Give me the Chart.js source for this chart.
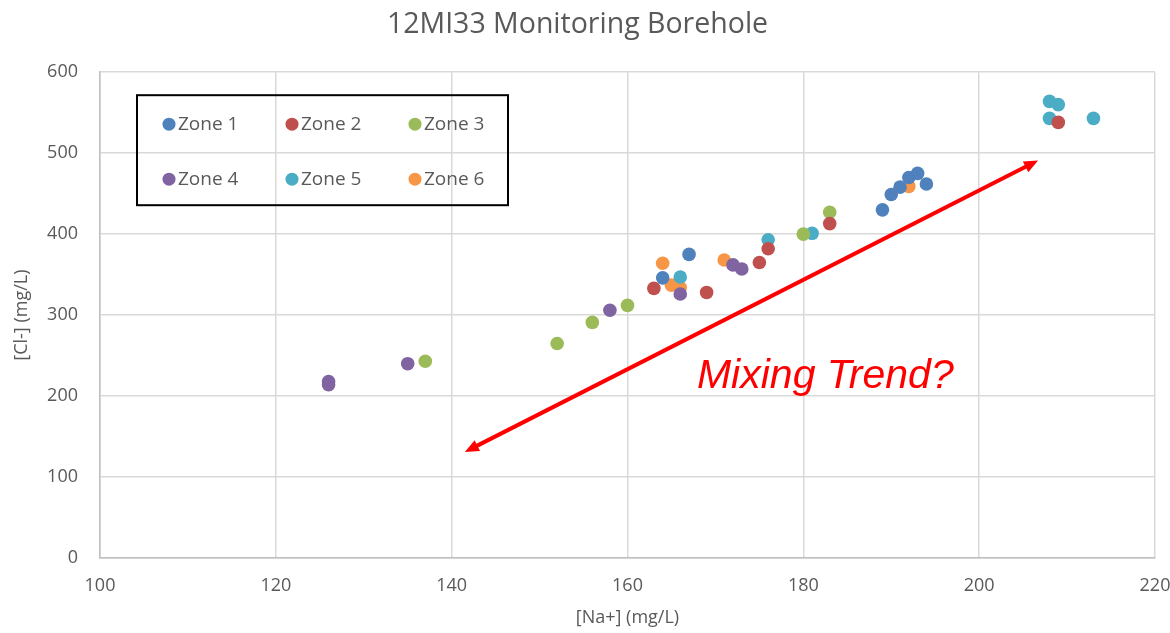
<!DOCTYPE html>
<html>
<head>
<meta charset="utf-8">
<script src="https://cdn.jsdelivr.net/npm/chart.js@4.4.0/dist/chart.umd.min.js"></script>
<style>
  html, body { margin: 0; padding: 0; background: #fff; }
  #wrap { width: 1170px; height: 633px; }
</style>
</head>
<body>
<div id="wrap"><canvas id="chart" width="1170" height="633"></canvas></div>
<script>
// [Na+] vs [Cl-] by zone, mg/L
const zoneNames = ["Zone 1", "Zone 2", "Zone 3", "Zone 4", "Zone 5", "Zone 6"];
const zoneColors = ["#4F81BD", "#C0504D", "#9BBB59", "#8064A2", "#4BACC6", "#F79646"];

const zone1Na = [164, 167, 189, 190, 191, 192, 193, 194];
const zone1Cl = [346, 375, 430, 449, 458, 470, 475, 462];

const zone2Na = [163, 169, 175, 176, 183, 209];
const zone2Cl = [333, 328, 365, 382, 413, 538];

const zone3Na = [137, 152, 156, 160, 180, 183];
const zone3Cl = [243, 265, 291, 312, 400, 427];

const zone4Na = [126, 126, 135, 158, 166, 172, 173];
const zone4Cl = [218, 214, 240, 306, 326, 362, 357];

const zone5Na = [166, 176, 181, 208, 209, 208, 213];
const zone5Cl = [347, 393, 401, 564, 560, 543, 543];

const zone6Na = [164, 165, 166, 171, 192];
const zone6Cl = [364, 337, 334, 368, 459];

// trend arrow ends and its label, in data units
const arrowNa = [141.5, 206.7];
const arrowCl = [131, 491];
const trendLabel = "Mixing Trend?";
const trendLabelAt = [167.9, 210];

const xTicks = [100, 120, 140, 160, 180, 200, 220];
const yTicks = [0, 100, 200, 300, 400, 500, 600];

const FONT = "'Open Sans', sans-serif";
const GREY = "#595959";

function toPoints(xs, ys) {
    return xs.map((x, i) => ({ x: x, y: ys[i] }));
}

const zoneData = [
    toPoints(zone1Na, zone1Cl),
    toPoints(zone2Na, zone2Cl),
    toPoints(zone3Na, zone3Cl),
    toPoints(zone4Na, zone4Cl),
    toPoints(zone5Na, zone5Cl),
    toPoints(zone6Na, zone6Cl)
];

const datasets = zoneNames.map((name, i) => ({
    label: name,
    data: zoneData[i],
    backgroundColor: zoneColors[i],
    borderColor: zoneColors[i],
    borderWidth: 0,
    pointRadius: 6.8,
    pointHoverRadius: 6.8
}));

// double headed arrow + italic label
const trendArrow = {
    id: "trendArrow",
    afterDatasetsDraw(chart) {
        const ctx = chart.ctx;
        const xs = chart.scales.x, ys = chart.scales.y;
        const x1 = xs.getPixelForValue(arrowNa[0]), y1 = ys.getPixelForValue(arrowCl[0]);
        const x2 = xs.getPixelForValue(arrowNa[1]), y2 = ys.getPixelForValue(arrowCl[1]);
        const ang = Math.atan2(y2 - y1, x2 - x1);
        const head = 14, half = 6;

        ctx.save();
        ctx.strokeStyle = "#FF0000";
        ctx.fillStyle = "#FF0000";
        ctx.lineWidth = 4;
        ctx.beginPath();
        ctx.moveTo(x1 + Math.cos(ang) * head * 0.8, y1 + Math.sin(ang) * head * 0.8);
        ctx.lineTo(x2 - Math.cos(ang) * head * 0.8, y2 - Math.sin(ang) * head * 0.8);
        ctx.stroke();

        function tip(tx, ty, a) {
            ctx.beginPath();
            ctx.moveTo(tx, ty);
            ctx.lineTo(tx - Math.cos(a) * head + Math.sin(a) * half, ty - Math.sin(a) * head - Math.cos(a) * half);
            ctx.lineTo(tx - Math.cos(a) * head - Math.sin(a) * half, ty - Math.sin(a) * head + Math.cos(a) * half);
            ctx.closePath();
            ctx.fill();
        }
        tip(x2, y2, ang);
        tip(x1, y1, ang + Math.PI);

        ctx.font = "italic 41px 'Liberation Sans', Arial, sans-serif";
        ctx.textAlign = "left";
        ctx.textBaseline = "alphabetic";
        ctx.fillText(trendLabel, xs.getPixelForValue(trendLabelAt[0]), ys.getPixelForValue(trendLabelAt[1]));
        ctx.restore();
    }
};

// boxed legend inside the plot, two rows of three
const boxLegend = {
    id: "boxLegend",
    afterDraw(chart, args, opts) {
        const ctx = chart.ctx;
        const area = chart.chartArea;
        const left = area.left + opts.offsetX, top = area.top + opts.offsetY;

        ctx.save();
        ctx.strokeStyle = "#000";
        ctx.lineWidth = 2;
        ctx.strokeRect(left, top, opts.width, opts.height);

        ctx.font = "19px " + FONT;
        ctx.textBaseline = "middle";
        ctx.textAlign = "left";
        chart.data.datasets.forEach((ds, i) => {
            const col = i % 3, row = Math.floor(i / 3);
            const cx = left + 32 + col * opts.colGap;
            const cy = top + 29 + row * opts.rowGap;
            ctx.fillStyle = ds.backgroundColor;
            ctx.beginPath();
            ctx.arc(cx, cy, 6.5, 0, Math.PI * 2);
            ctx.fill();
            ctx.fillStyle = GREY;
            ctx.fillText(ds.label, cx + 9, cy);
        });
        ctx.restore();
    }
};

new Chart(document.getElementById("chart"), {
    type: "scatter",
    data: { datasets: datasets },
    plugins: [trendArrow, boxLegend],
    options: {
        responsive: false,
        animation: false,
        layout: { padding: { left: 0, right: 15, top: 0, bottom: 0 } },
        plugins: {
            legend: { display: false },
            tooltip: { enabled: false },
            title: {
                display: true,
                text: "12MI33 Monitoring Borehole",
                color: GREY,
                font: { family: FONT, size: 28.5, weight: "normal" },
                padding: { top: 8, bottom: 30 }
            },
            boxLegend: { offsetX: 37, offsetY: 23, width: 371, height: 110, colGap: 123, rowGap: 55 }
        },
        scales: {
            x: {
                type: "linear",
                min: 100,
                max: 220,
                afterBuildTicks: s => { s.ticks = xTicks.map(v => ({ value: v })); },
                afterFit: s => { s.height = 75; s.paddingLeft = 0; s.paddingRight = 0; },
                grid: { color: "#D9D9D9", lineWidth: 1.5, drawTicks: false },
                border: { color: "#BFBFBF", width: 1.5 },
                ticks: { color: GREY, font: { family: FONT, size: 18 }, padding: 17 },
                title: {
                    display: true,
                    text: "[Na+] (mg/L)",
                    color: GREY,
                    font: { family: FONT, size: 18 },
                    padding: { top: 6, bottom: 4 }
                }
            },
            y: {
                type: "linear",
                min: 0,
                max: 600,
                afterBuildTicks: s => { s.ticks = yTicks.map(v => ({ value: v })); },
                afterFit: s => { s.width = 100; },
                grid: { color: "#D9D9D9", lineWidth: 1.5, drawTicks: false },
                border: { color: "#BFBFBF", width: 1.5 },
                ticks: { color: GREY, font: { family: FONT, size: 18 }, padding: 22 },
                title: {
                    display: true,
                    text: "[Cl-] (mg/L)",
                    color: GREY,
                    font: { family: FONT, size: 18 },
                    padding: { top: 11, bottom: 0 }
                }
            }
        }
    }
});
</script>
</body>
</html>
